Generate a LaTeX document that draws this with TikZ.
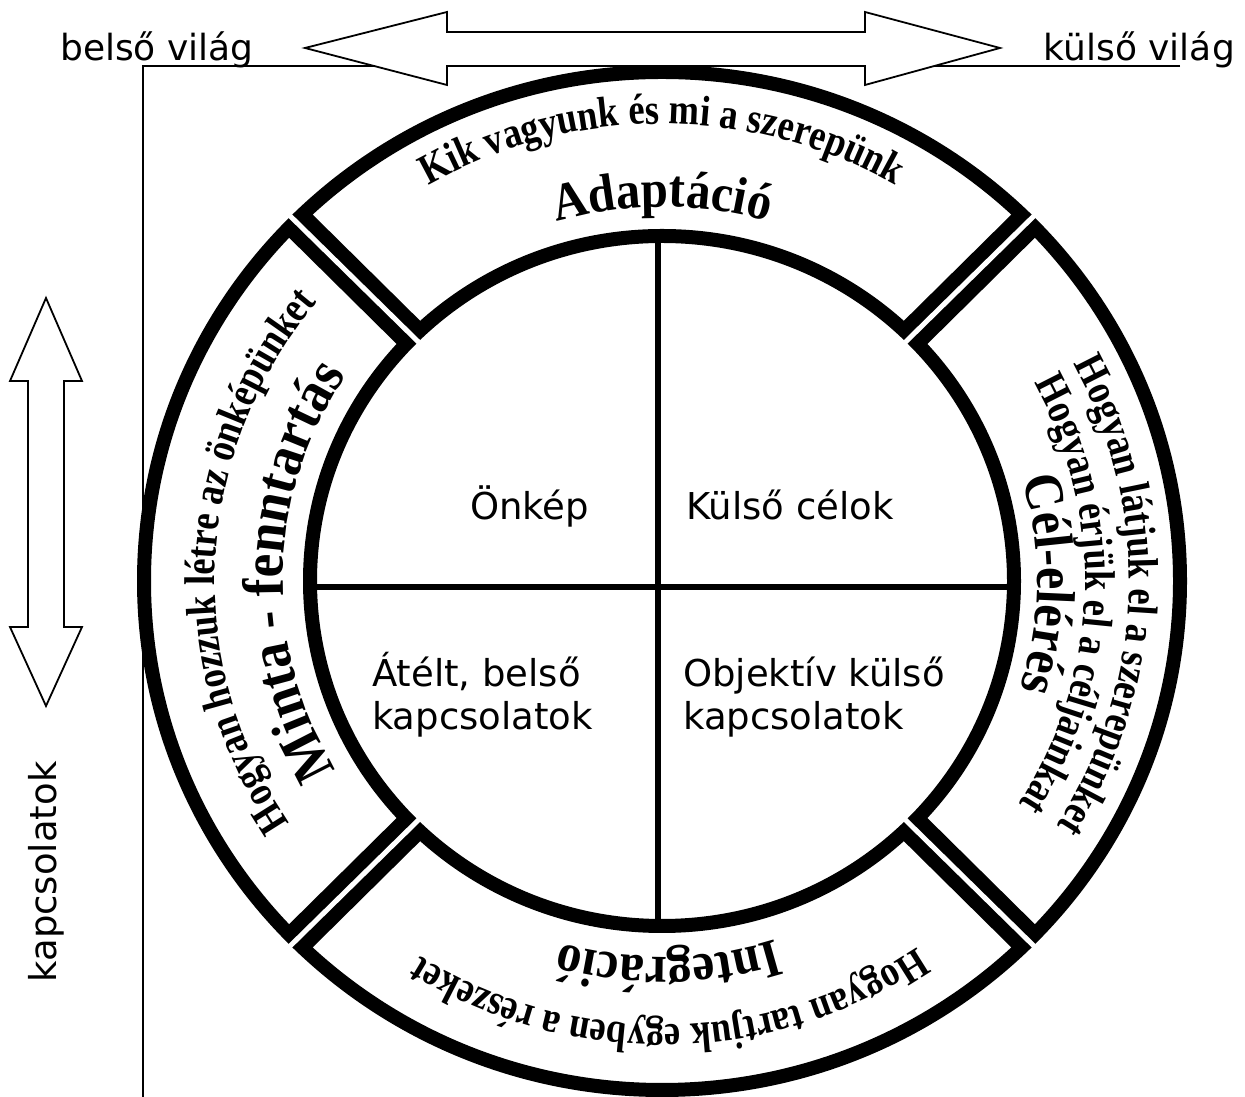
\documentclass[tikz,border=0pt]{standalone}
\usepackage{fontspec}
\usetikzlibrary{decorations.text}
\newfontfamily\tnrfont[FakeStretch=0.85]{Liberation Serif}
\newfontfamily\tnrbig[FakeStretch=0.92]{Liberation Serif}
\newfontfamily\dvfont{DejaVu Sans}
\newcommand\smallring{\tnrfont\bfseries\fontsize{43}{43}\selectfont}
\newcommand\bigring[1]{\tnrbig\bfseries\fontsize{#1}{#1}\selectfont}
% #1 x radius, #2 y radius, #3 start angle, #4 end angle, #5 font, #6 text
\newcommand\ringtext[6]{%
  \path[decorate, decoration={text along path, text align=center, text={|#5|#6}}]
    (#3:#1pt and #2pt) arc[start angle=#3, end angle=#4, x radius=#1pt, y radius=#2pt];}
\begin{document}
\begin{tikzpicture}[x=1pt,y=1pt,
  plain/.style={font=\dvfont\fontsize{37}{37}\selectfont, inner sep=0pt},
  outer/.style={font=\dvfont\fontsize{36}{36}\selectfont, inner sep=0pt},
  thinline/.style={line width=1.5pt},
  bigarrow/.style={draw, line width=1.8pt, fill=white, line join=miter},
  ringline/.style={line width=14pt},
  crossline/.style={line width=6.5pt},
]
\useasboundingbox (0,0) rectangle (1245,1097);
\fill[white] (0,0) rectangle (1245,1097);
\coordinate (C) at (662,516);
% thin axes
\coordinate (axO) at (143,1031);
\coordinate (axR) at (1180,1031);
\coordinate (axB) at (143,0);
\draw[thinline] (axR) -- (axO) -- (axB);
% cross
\coordinate (vt) at (658,861);
\coordinate (vb) at (658,171);
\coordinate (hl) at (309,510);
\coordinate (hr) at (1013,510);
\draw[crossline] (vt) -- (vb);
\draw[crossline] (hl) -- (hr);
% ring
\begin{scope}[shift={(C)}]
  \draw[ringline] (0,0) ellipse[x radius=518pt, y radius=509pt];
  \draw[line width=14pt] (0,0) ellipse[x radius=352pt, y radius=345pt];
  \foreach \a in {45,135,225,315} {
    \draw[line width=33pt] (\a:352pt and 345pt) -- (\a:518pt and 509pt);
    \draw[white, line width=5pt] (\a:322pt and 316pt) -- (\a:542pt and 532pt);
  }
  % top segment
  \ringtext{466}{457}{150}{30}{\smallring}{Kik vagyunk és mi a szerepünk}
  \ringtext{383}{374}{150}{30}{\bigring{53}}{Adaptáció}
  % left segment
  \ringtext{447}{438}{250}{104}{\smallring}{Hogyan hozzuk létre az önképünket}
  \ringtext{379}{372}{250}{107}{\bigring{58}}{Minta - fenntartás}
  % right segment
  \ringtext{467}{458}{70}{-74}{\smallring}{Hogyan látjuk el a szerepünket}
  \ringtext{423}{415}{70}{-74}{\smallring}{Hogyan érjük el a céljainkat}
  \ringtext{375}{368}{70}{-71}{\bigring{55}}{Cél-elérés}
  % bottom segment
  \ringtext{380}{376}{-19}{-159}{\bigring{54}}{Integráció}
  \ringtext{452}{444}{-19}{-159}{\smallring}{Hogyan tartjuk egyben a részeket}
\end{scope}
% inner texts
\node[plain, anchor=base west] (onkep) at (470,577) {Önkép};
\node[plain, anchor=base west] (kcel) at (686,577) {Külső célok};
\node[plain, anchor=base west] (atelt1) at (372,410) {Átélt, belső};
\node[plain, anchor=base west] (atelt2) at (372,367) {kapcsolatok};
\node[plain, anchor=base west] (obj1) at (683,410) {Objektív külső};
\node[plain, anchor=base west] (obj2) at (683,367) {kapcsolatok};
% top double arrow
\draw[bigarrow] (305,1049) -- (447,1085) -- (447,1065) -- (865,1065) -- (865,1085)
  -- (1000,1049) -- (865,1012) -- (865,1031) -- (447,1031) -- (447,1012) -- cycle;
% left double arrow
\draw[bigarrow] (46,799) -- (82,716) -- (64,716) -- (64,470) -- (82,470) -- (46,391)
  -- (10,470) -- (28,470) -- (28,716) -- (10,716) -- cycle;
% outer labels
\node[outer, anchor=base west] (belso) at (60,1036) {belső világ};
\node[outer, anchor=base east] (kulso) at (1235,1036) {külső világ};
\node[plain, rotate=90] (kapcs) at (46,225) {kapcsolatok};
\end{tikzpicture}
\end{document}
